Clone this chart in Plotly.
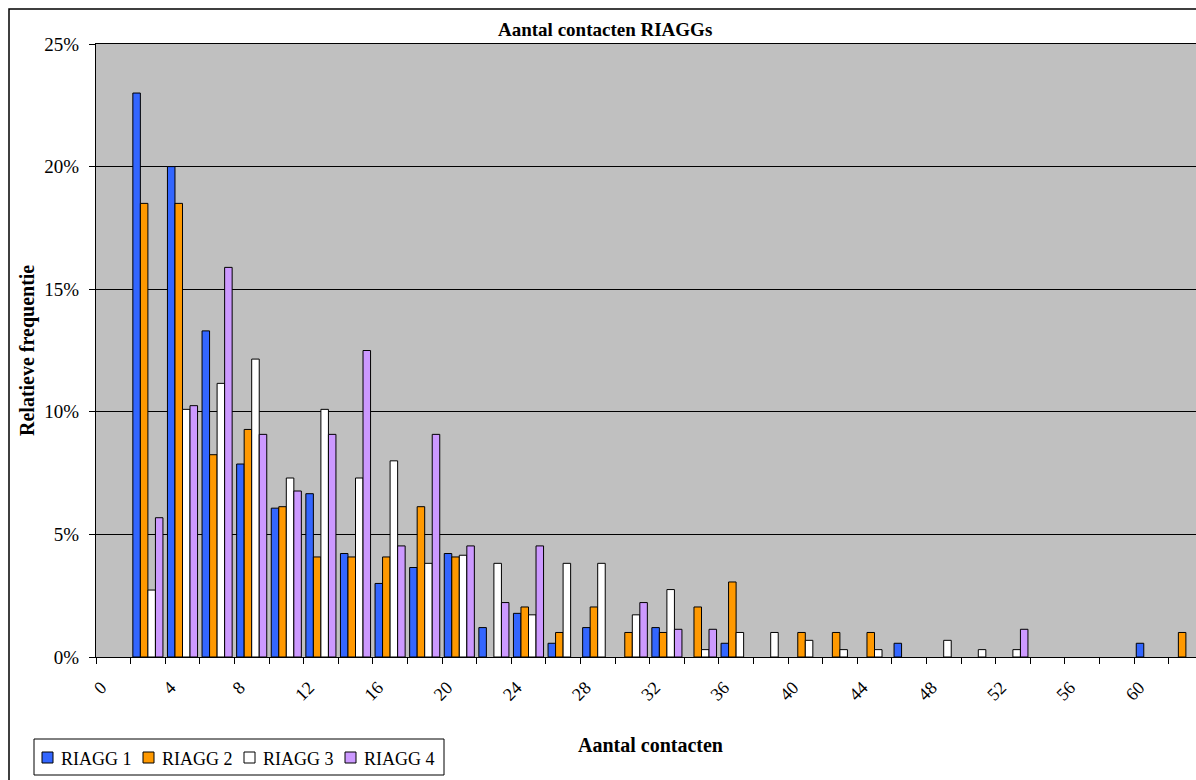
import plotly.graph_objects as go

# Number of contacts (category axis)
contacts = ["0", "2", "4", "6", "8", "10", "12", "14", "16", "18", "20", "22",
            "24", "26", "28", "30", "32", "34", "36", "38", "40", "42", "44",
            "46", "48", "50", "52", "54", "56", "58", "60", "62"]
tick_labels = ["0", "", "4", "", "8", "", "12", "", "16", "", "20", "", "24",
               "", "28", "", "32", "", "36", "", "40", "", "44", "", "48", "",
               "52", "", "56", "", "60", ""]

# Relative frequency per RIAGG (%)
riagg1 = [0, 23.0, 20.0, 13.3, 7.87, 6.07, 6.66, 4.22, 3.0, 3.65, 4.22, 1.2,
          1.78, 0.56, 1.2, 0, 1.2, 0, 0.56, 0, 0, 0, 0, 0.56, 0, 0, 0, 0, 0, 0,
          0.56, 0]
riagg2 = [0, 18.5, 18.5, 8.25, 9.28, 6.13, 4.08, 4.08, 4.08, 6.13, 4.08, 0,
          2.04, 1.0, 2.04, 1.0, 1.0, 2.04, 3.06, 0, 1.0, 1.0, 1.0, 0, 0, 0, 0,
          0, 0, 0, 0, 1.0]
riagg3 = [0, 2.73, 10.1, 11.16, 12.15, 7.3, 10.1, 7.3, 8.0, 3.82, 4.15, 3.82,
          1.72, 3.82, 3.82, 1.72, 2.75, 0.3, 1.0, 1.0, 0.68, 0.3, 0.3, 0, 0.68,
          0.3, 0.3, 0, 0, 0, 0, 0]
riagg4 = [0, 5.68, 10.25, 15.89, 9.08, 6.77, 9.08, 12.5, 4.53, 9.08, 4.53,
          2.22, 4.53, 0, 0, 2.22, 1.13, 1.13, 0, 0, 0, 0, 0, 0, 0, 0, 1.13, 0,
          0, 0, 0, 0]

series = [
    ("RIAGG 1", riagg1, "#3366FF"),
    ("RIAGG 2", riagg2, "#FF9900"),
    ("RIAGG 3", riagg3, "#FFFFFF"),
    ("RIAGG 4", riagg4, "#CC99FF"),
]

SERIF = "Liberation Serif, Times New Roman, serif"

fig = go.Figure()
for name, vals, color in series:
    # empty categories get no bar outline on the baseline
    fig.add_trace(go.Bar(
        x=contacts, y=[v if v else None for v in vals], name=name,
        marker=dict(color=color, line=dict(color="#000000", width=1)),
        showlegend=False,
    ))

# plot area in pixels: left 96, top 44, bottom 657, right clipped at page edge
L, T, B, W, H = 96, 44, 657, 1196, 780
pw, ph = W - L, B - T


def px(x):
    return (x - L) / pw


def py(y):
    return (B - y) / ph


shapes = [
    # chart frame
    dict(type="rect", xref="paper", yref="paper",
         x0=px(9), x1=px(1230), y0=py(820), y1=py(9),
         line=dict(color="#000000", width=1.5), fillcolor="rgba(0,0,0,0)",
         layer="below"),
    # legend box
    dict(type="rect", xref="paper", yref="paper",
         x0=px(34), x1=px(444), y0=py(775), y1=py(739),
         line=dict(color="#000000", width=1), fillcolor="#FFFFFF",
         layer="above"),
]

annotations = [
    dict(text="<b>Aantal contacten RIAGGs</b>", xref="paper", yref="paper",
         x=px(605), y=py(29), xanchor="center", yanchor="middle",
         showarrow=False, font=dict(family=SERIF, size=19)),
    dict(text="<b>Aantal contacten</b>", xref="paper", yref="paper",
         x=px(650), y=py(745), xanchor="center", yanchor="middle",
         showarrow=False, font=dict(family=SERIF, size=20)),
    dict(text="<b>Relatieve frequentie</b>", xref="paper", yref="paper",
         x=px(27), y=py(351), xanchor="center", yanchor="middle",
         textangle=-90, showarrow=False,
         font=dict(family=SERIF, size=20)),
]

# legend entries: swatch + series name, one per series
leg_x0, leg_pitch, leg_y = 42, 101, 757.5
for i, (name, _vals, color) in enumerate(series):
    sx = leg_x0 + i * leg_pitch
    shapes.append(dict(
        type="rect", xref="paper", yref="paper",
        x0=px(sx), x1=px(sx + 11), y0=py(leg_y + 5.5), y1=py(leg_y - 5.5),
        line=dict(color="#000000", width=1), fillcolor=color, layer="above"))
    annotations.append(dict(
        text=name, xref="paper", yref="paper",
        x=px(sx + 17), y=py(leg_y + 1), xanchor="left", yanchor="middle",
        showarrow=False, font=dict(family=SERIF, size=18)))

fig.update_layout(
    width=W, height=H,
    margin=dict(l=L, r=0, t=T, b=H - B, pad=0),
    paper_bgcolor="#FFFFFF",
    plot_bgcolor="#C0C0C0",
    barmode="group",
    bargap=0.13,
    bargroupgap=0,
    font=dict(family=SERIF, size=18, color="#000000"),
    showlegend=False,
    xaxis=dict(
        type="category",
        range=[-0.5, -0.5 + pw / 34.6],
        tickmode="array", tickvals=contacts, ticktext=tick_labels,
        tickson="boundaries", ticks="outside", ticklen=6,
        tickcolor="#000000", tickangle=-45,
        tickfont=dict(family=SERIF, size=18),
        ticklabelstandoff=12, ticklabelshift=-12,
        showline=True, linecolor="#000000", linewidth=1, mirror=True,
        showgrid=False, zeroline=False,
    ),
    yaxis=dict(
        range=[0, 25], dtick=5, ticksuffix="%",
        ticks="outside", ticklen=6, tickcolor="#000000",
        tickfont=dict(family=SERIF, size=19),
        ticklabelstandoff=6,
        showline=True, linecolor="#000000", linewidth=1,
        showgrid=True, gridcolor="#000000", gridwidth=1,
        zeroline=False,
    ),
    shapes=shapes,
    annotations=annotations,
)

fig.write_html("out.html")
